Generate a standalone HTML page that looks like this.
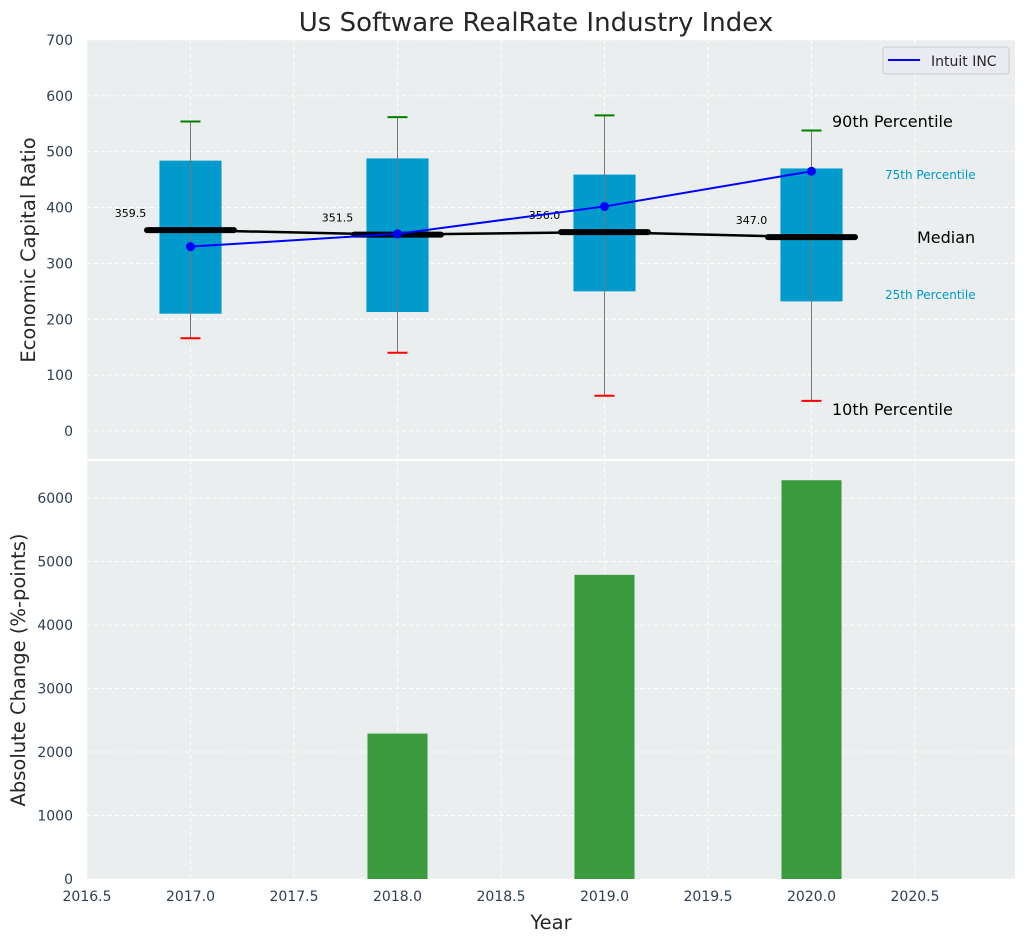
<!DOCTYPE html>
<html><head><meta charset="utf-8"><style>
body{margin:0;background:#fff;font-family:"DejaVu Sans","Liberation Sans",sans-serif}
svg text{font-family:"DejaVu Sans","Liberation Sans",sans-serif}
</style></head><body>
<svg id="c" width="1026" height="942" xmlns="http://www.w3.org/2000/svg"></svg>
<script>
const years=[2017,2018,2019,2020];
const q1=[210,213,250,232];
const q3=[484,488,459,470];
const p10=[166,140,63,54];
const p90=[554,562,565,538];
const medians=[359.5,351.5,356.0,347.0];
const intuit=[330,353,402,465];
const changeYears=[2018,2019,2020];
const changes=[2290,4790,6280];
const xTicks=[2016.5,2017.0,2017.5,2018.0,2018.5,2019.0,2019.5,2020.0,2020.5];
const yTopTicks=[0,100,200,300,400,500,600,700];
const yBotTicks=[0,1000,2000,3000,4000,5000,6000];

const svg=document.getElementById('c');const NS='http://www.w3.org/2000/svg';
function el(t,a,p,txt){
 if(typeof p==='string'||typeof p==='number'){txt=p;p=null;}
 const e=document.createElementNS(NS,t);for(const k in a)e.setAttribute(k,a[k]);if(txt!==undefined&&txt!==null)e.textContent=String(txt);(p||svg).appendChild(e);return e;}
const L=87,R=1015;
const X=v=>L+(v-2016.5)*207;
const YT=v=>431-v*0.5586;
const YB=v=>879-v*0.0635;
let g=el('rect',{x:L,y:40,width:R-L,height:419,fill:'#eaeeee'});


g=el('rect',{x:L,y:461,width:R-L,height:418,fill:'#eaeeee'});


xTicks.forEach(v=>{el('line',{x1:X(v),x2:X(v),y1:40,y2:459,stroke:'#fff','stroke-dasharray':'4,3','stroke-width':1});el('line',{x1:X(v),x2:X(v),y1:461,y2:879,stroke:'#fff','stroke-dasharray':'4,3','stroke-width':1});});
yTopTicks.forEach(v=>{el('line',{x1:L,x2:R,y1:YT(v),y2:YT(v),stroke:'#fff','stroke-dasharray':'4,3'});
 const e=el('text',{x:73,y:YT(v)+5,'text-anchor':'end','font-size':14,fill:'#2e3e50'},null,v);
 
 });
yBotTicks.forEach(v=>{el('line',{x1:L,x2:R,y1:YB(v),y2:YB(v),stroke:'#fff','stroke-dasharray':'4,3'});
 const e=el('text',{x:73,y:YB(v)+5,'text-anchor':'end','font-size':14,fill:'#2e3e50'},null,v);
 
 });
xTicks.forEach(v=>{const e=el('text',{x:X(v),y:901,'text-anchor':'middle','font-size':14,fill:'#2e3e50'},null,v.toFixed(1));
 
 });
years.forEach((y,i)=>{
 const x=X(y);
 const b=el('rect',{x:X(y-0.15),y:YT(q3[i]),width:X(y+0.15)-X(y-0.15),height:YT(q1[i])-YT(q3[i]),fill:'#009acd'});
 
 
 el('line',{x1:x,x2:x,y1:YT(p90[i]),y2:YT(p10[i]),stroke:'#777','stroke-width':1});
 el('line',{x1:x-10,x2:x+10,y1:YT(p90[i]),y2:YT(p90[i]),stroke:'green','stroke-width':2});
 el('line',{x1:x-10,x2:x+10,y1:YT(p10[i]),y2:YT(p10[i]),stroke:'red','stroke-width':2});
 const m=el('line',{x1:X(y-0.21),x2:X(y+0.21),y1:YT(medians[i]),y2:YT(medians[i]),stroke:'#000','stroke-width':6,'stroke-linecap':'round'});
 
 
 el('text',{x:X(y-0.29),y:YT(medians[i])-13,'text-anchor':'middle','font-size':11,fill:'#000'},null,medians[i].toFixed(1));
});
let mp=el('polyline',{points:years.map((y,i)=>X(y)+','+YT(medians[i])).join(' '),fill:'none',stroke:'#000','stroke-width':2.5});


let ip=el('polyline',{points:years.map((y,i)=>X(y)+','+YT(intuit[i])).join(' '),fill:'none',stroke:'blue','stroke-width':2});


years.forEach((y,i)=>{const c=el('circle',{cx:X(y),cy:YT(intuit[i]),r:4.5,fill:'blue'});
 
 });
const ann=[['90th Percentile',832,127,16,'#000'],['75th Percentile',885,179,12,'#009acd'],['Median',917,243,16,'#000'],['25th Percentile',885,299,12,'#009acd'],['10th Percentile',832,415,16,'#000']];
ann.forEach(a=>{const e=el('text',{x:a[1],y:a[2],'font-size':a[3],fill:a[4]},null,a[0]);
 
 });
let lg=el('g',{});


el('rect',{x:883,y:47,width:126,height:27,rx:3,fill:'#eaeaf2',stroke:'#ccc'},lg);
el('line',{x1:888,x2:920,y1:60,y2:60,stroke:'blue','stroke-width':2},lg);
el('text',{x:931,y:66,'font-size':14,fill:'#262626'},lg,'Intuit INC');
changeYears.forEach((y,i)=>{const b=el('rect',{x:X(y-0.145),y:YB(changes[i]),width:X(y+0.145)-X(y-0.145),height:YB(0)-YB(changes[i]),fill:'#3a9a3e'});
 
 });
el('line',{x1:L,x2:R,y1:460,y2:460,stroke:'#fff','stroke-width':2});
let t=el('text',{x:536,y:31,'text-anchor':'middle','font-size':26,fill:'#262626'},null,'Us Software RealRate Industry Index');


t=el('text',{x:0,y:0,'text-anchor':'middle','font-size':19.5,fill:'#262626',transform:'translate(35,250) rotate(-90)'},null,'Economic Capital Ratio');


t=el('text',{x:0,y:0,'text-anchor':'middle','font-size':19.5,fill:'#262626',transform:'translate(25,670) rotate(-90)'},null,'Absolute Change (%-points)');


t=el('text',{x:551,y:929,'text-anchor':'middle','font-size':19.5,fill:'#262626'},null,'Year');


</script>
</body></html>
